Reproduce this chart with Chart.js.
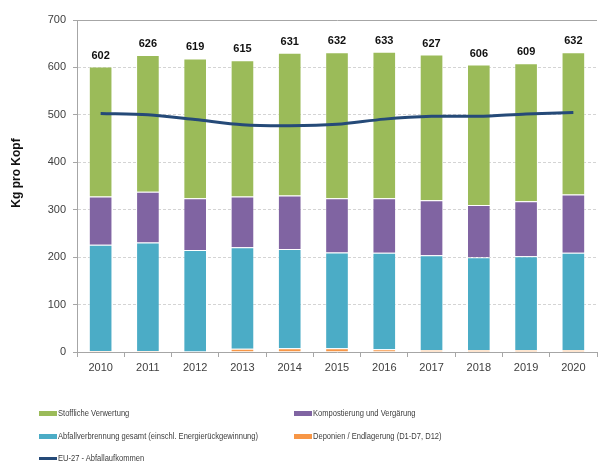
<!DOCTYPE html>
<html>
<head>
<meta charset="utf-8">
<script src="https://cdn.jsdelivr.net/npm/chart.js@4/dist/chart.umd.min.js"></script>
<style>
  html, body { margin: 0; padding: 0; background: #fff; }
  #wrap { position: relative; width: 598px; height: 461px; overflow: hidden; }
  #legend { position: absolute; left: 0; top: 0; width: 598px; height: 461px; pointer-events: none;
    font-family: "Liberation Sans", Arial, sans-serif; font-size: 9px; color: #404040; }
  .lg-item { position: absolute; display: flex; align-items: center; white-space: nowrap; }
  .lg-swatch { width: 18px; height: 5px; margin-right: 1px; flex: none; }
  .lg-line { height: 3px; }
  .lg-text { display: inline-block; transform: scaleX(0.84); transform-origin: left center; }
</style>
</head>
<body>
<div id="wrap">
  <canvas id="chart" width="598" height="461"></canvas>
  <div id="legend"></div>
</div>
<script>
  // Abfallbehandlung pro Kopf, 2010-2020 (kg)
  const years = ['2010', '2011', '2012', '2013', '2014', '2015', '2016', '2017', '2018', '2019', '2020'];
  const deponien = [2, 2, 1, 7, 8, 8, 6, 4, 4, 4, 4];
  const verbrennung = [224, 229, 214, 214, 209, 202, 203, 200, 196, 198, 205];
  const kompost = [102, 107, 109, 107, 113, 114, 115, 116, 110, 116, 123];
  const stofflich = [274, 288, 295, 287, 301, 308, 309, 307, 296, 291, 300];
  const eu27 = [503, 500, 490, 479, 477, 480, 491, 497, 497, 502, 505];
  const yTicks = [0, 100, 200, 300, 400, 500, 600, 700];

  const COLORS = {
    stofflich: '#9BBB59',
    kompost: '#8064A2',
    verbrennung: '#4BACC6',
    deponien: '#F79646',
    eu27: '#254A78',
  };

  const totals = years.map((_, i) => deponien[i] + verbrennung[i] + kompost[i] + stofflich[i]);

  const PLOT_LEFT = 77;
  const PLOT_TOP = 20;
  const PLOT_BOTTOM = 352;
  const X_AXIS_H = 30;

  // total labels above each stack + rotated y title
  const extrasPlugin = {
    id: 'extras',
    afterDatasetsDraw(chart) {
      const { ctx, scales } = chart;
      ctx.save();
      ctx.font = 'bold 11px "Liberation Sans", Arial, sans-serif';
      ctx.fillStyle = '#111';
      ctx.textAlign = 'center';
      ctx.textBaseline = 'middle';
      totals.forEach((t, i) => {
        const x = scales.x.getPixelForValue(i);
        const y = scales.y.getPixelForValue(t) - 11;
        ctx.fillText(String(t), x, y);
      });
      ctx.font = 'bold 12px "Liberation Sans", Arial, sans-serif';
      ctx.translate(17, 173);
      ctx.rotate(-Math.PI / 2);
      ctx.fillText('Kg pro Kopf', 0, 0);
      ctx.restore();
    },
  };

  const bar = (label, data, color) => ({
    type: 'bar',
    label,
    data,
    backgroundColor: color,
    borderColor: 'rgba(255,255,255,0.35)',
    borderWidth: 1,
    order: 2,
    stack: 'waste',
  });

  const chart = new Chart(document.getElementById('chart'), {
    data: {
      labels: years,
      datasets: [
        {
          type: 'line',
          label: 'EU-27 - Abfallaufkommen',
          data: eu27,
          borderColor: COLORS.eu27,
          borderWidth: 3,
          pointRadius: 0,
          tension: 0.3,
          fill: false,
          order: 0,
        },
        bar('Deponien / Endlagerung (D1-D7, D12)', deponien, COLORS.deponien),
        bar('Abfallverbrennung gesamt (einschl. Energierückgewinnung)', verbrennung, COLORS.verbrennung),
        bar('Kompostierung und Vergärung', kompost, COLORS.kompost),
        bar('Stoffliche Verwertung', stofflich, COLORS.stofflich),
      ],
    },
    options: {
      responsive: false,
      animation: false,
      layout: {
        padding: { left: 0, top: PLOT_TOP, right: 1, bottom: 461 - PLOT_BOTTOM - X_AXIS_H },
      },
      datasets: {
        bar: { categoryPercentage: 1, barPercentage: 0.5 },
      },
      plugins: {
        legend: { display: false },
        tooltip: { enabled: false },
      },
      scales: {
        x: {
          stacked: true,
          afterFit: (s) => { s.height = X_AXIS_H; },
          grid: {
            drawOnChartArea: false,
            offset: true,
            tickLength: 5,
            tickColor: '#a6a6a6',
          },
          border: { color: '#a6a6a6', width: 1 },
          ticks: {
            color: '#404040',
            padding: 4,
            font: { family: '"Liberation Sans", Arial, sans-serif', size: 11 },
          },
        },
        y: {
          stacked: true,
          min: 0,
          max: 700,
          afterFit: (s) => { s.width = PLOT_LEFT; },
          afterBuildTicks: (s) => { s.ticks = yTicks.map((v) => ({ value: v })); },
          grid: {
            color: (c) => (c.tick && c.tick.value === 700 ? '#a6a6a6' : '#d4d4d4'),
            tickColor: '#a6a6a6',
            tickLength: 4,
            tickBorderDash: [],
          },
          border: {
            color: '#a6a6a6',
            width: 1,
            dash: (c) => (c.tick && c.tick.value !== 700 ? [3, 2] : []),
          },
          ticks: {
            color: '#404040',
            padding: 7,
            font: { family: '"Liberation Sans", Arial, sans-serif', size: 11 },
          },
        },
      },
    },
    plugins: [extrasPlugin],
  });

  // legend below the plot, two columns like the original
  const legendItems = [
    { label: 'Stoffliche Verwertung', color: COLORS.stofflich, x: 39, y: 413 },
    { label: 'Kompostierung und Vergärung', color: COLORS.kompost, x: 294, y: 413 },
    { label: 'Abfallverbrennung gesamt (einschl. Energierückgewinnung)', color: COLORS.verbrennung, x: 39, y: 436 },
    { label: 'Deponien / Endlagerung (D1-D7, D12)', color: COLORS.deponien, x: 294, y: 436 },
    { label: 'EU-27 - Abfallaufkommen', color: COLORS.eu27, x: 39, y: 458, line: true },
  ];
  const legendEl = document.getElementById('legend');
  legendItems.forEach((it) => {
    const d = document.createElement('div');
    d.className = 'lg-item';
    d.style.left = it.x + 'px';
    d.style.top = (it.y - 6) + 'px';
    d.style.height = '12px';
    const sw = document.createElement('span');
    sw.className = 'lg-swatch' + (it.line ? ' lg-line' : '');
    sw.style.background = it.color;
    const tx = document.createElement('span');
    tx.className = 'lg-text';
    tx.textContent = it.label;
    d.appendChild(sw);
    d.appendChild(tx);
    legendEl.appendChild(d);
  });
</script>
</body>
</html>
